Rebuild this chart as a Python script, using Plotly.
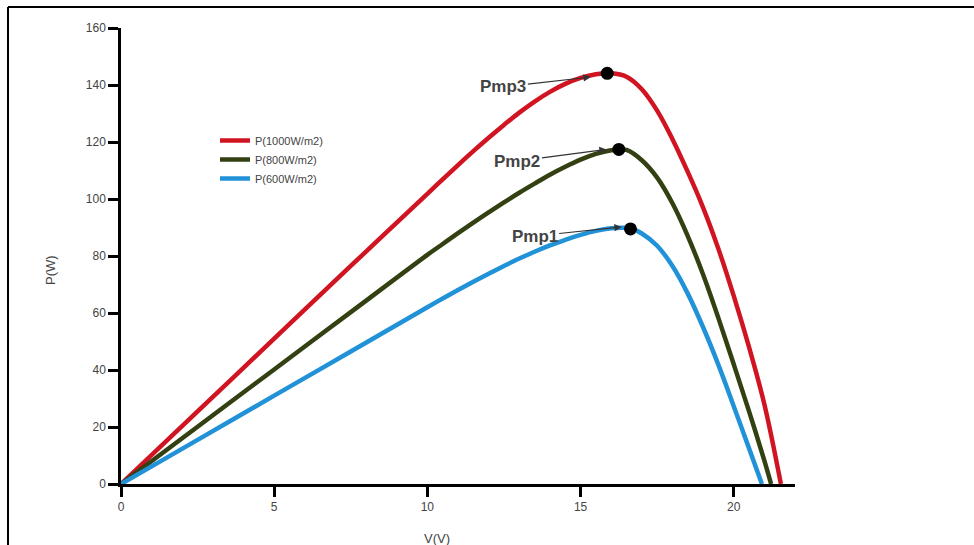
import plotly.graph_objects as go

# ---- data ----
v_1000 = [0, 2.5, 5.0, 7.5, 10.0, 10.5, 11.0, 11.5, 12.0, 12.5, 13.0, 13.5, 14.0, 14.5, 15.0, 15.5, 16.0,
          16.5, 17.0, 17.5, 18.0, 18.5, 19.0, 19.5, 20.0, 20.5, 21.0, 21.54]
p_1000 = [0, 25.5, 51.0, 76.5, 101.8, 106.9, 111.9, 116.8, 121.5, 126.0, 130.3, 134.2, 137.6, 140.4, 142.5, 143.8, 144.1,
          142.9, 138.5, 131.0, 121.0, 109.5, 97.0, 82.5, 66.0, 48.0, 28.0, 0]

v_800 = [0, 2.5, 5.0, 7.5, 10.0, 10.5, 11.0, 11.5, 12.0, 12.5, 13.0, 13.5, 14.0, 14.5, 15.0, 15.5, 16.0, 16.3,
         16.5, 17.0, 17.5, 18.0, 18.5, 19.0, 19.5, 20.0, 20.5, 21.0, 21.22]
p_800 = [0, 20.1, 40.2, 60.3, 80.4, 84.2, 88.0, 91.7, 95.3, 98.8, 102.2, 105.4, 108.5, 111.3, 113.8, 115.8, 117.1, 117.4,
         117.2, 113.6, 107.5, 98.5, 87.0, 73.5, 58.2, 42.0, 25.5, 8.2, 0]

v_600 = [0, 2.5, 5.0, 7.5, 10.0, 10.5, 11.0, 11.5, 12.0, 12.5, 13.0, 13.5, 14.0, 14.5, 15.0, 15.5, 16.0, 16.4,
         16.7, 17.0, 17.5, 18.0, 18.5, 19.0, 19.5, 20.0, 20.5, 20.92]
p_600 = [0, 15.5, 31.0, 46.5, 62.0, 65.1, 68.1, 71.0, 73.8, 76.5, 79.1, 81.5, 83.7, 85.7, 87.4, 88.8, 89.7, 89.9,
         89.4, 87.9, 83.6, 76.5, 66.8, 55.0, 41.8, 27.3, 12.5, 0]

series_names = ["P(1000W/m2)", "P(800W/m2)", "P(600W/m2)"]
series_colors = ["#d01422", "#334012", "#2192d8"]

mpp_v = [15.87, 16.25, 16.63]
mpp_p = [144.1, 117.4, 89.5]
mpp_labels = ["Pmp3", "Pmp2", "Pmp1"]
arrow_tip_v = [15.33, 15.85, 16.34]
arrow_tip_p = [142.8, 117.4, 90.2]
label_v = [12.48, 12.94, 13.5]
label_p = [139.3, 113.3, 87.0]

x_ticks = [0, 5, 10, 15, 20]
y_ticks = [0, 20, 40, 60, 80, 100, 120, 140, 160]

FONT = "Liberation Sans, Arial, sans-serif"
TXT = "#444444"

L, T, R, B = 121, 28, 795, 484   # plot area in pixels
PW, PH = R - L, B - T


def px(x):
    return (x - L) / PW


def py(y):
    return (B - y) / PH


fig = go.Figure()
for vs, ps, name, col in zip([v_1000, v_800, v_600], [p_1000, p_800, p_600], series_names, series_colors):
    fig.add_trace(go.Scatter(x=vs, y=ps, mode="lines", name=name,
                             line=dict(color=col, width=4.5, shape="spline", smoothing=1.0)))

fig.add_trace(go.Scatter(x=mpp_v, y=mpp_p, mode="markers", showlegend=False,
                         marker=dict(color="black", size=13), cliponaxis=False))

for tv, tp, lv, lp, lab in zip(arrow_tip_v, arrow_tip_p, label_v, label_p, mpp_labels):
    fig.add_annotation(x=tv, y=tp, ax=lv, ay=lp, axref="x", ayref="y", xref="x", yref="y",
                       text="<b>%s</b>" % lab, showarrow=True, arrowhead=2, arrowsize=1.2,
                       arrowwidth=1.2, arrowcolor="#333333",
                       font=dict(family=FONT, size=17, color=TXT))

# axis titles
fig.add_annotation(x=px(50), y=py(270), xref="paper", yref="paper", text="P(W)", textangle=-90,
                   showarrow=False, xanchor="center", yanchor="middle",
                   font=dict(family=FONT, size=13, color=TXT))
fig.add_annotation(x=px(437), y=py(538), xref="paper", yref="paper", text="V(V)",
                   showarrow=False, xanchor="center", yanchor="middle",
                   font=dict(family=FONT, size=13, color=TXT))

# frame border (top and left)
fig.add_shape(type="line", xref="paper", yref="paper",
              x0=px(8), x1=px(974), y0=py(7), y1=py(7), line=dict(color="black", width=2))
fig.add_shape(type="line", xref="paper", yref="paper",
              x0=px(8), x1=px(8), y0=py(7), y1=py(546), line=dict(color="black", width=2))

fig.update_layout(
    width=974, height=545,
    margin=dict(l=L, r=974 - R, t=T, b=545 - B, autoexpand=False),
    paper_bgcolor="white", plot_bgcolor="white",
    font=dict(family=FONT, size=11, color=TXT),
    showlegend=True,
    legend=dict(x=px(215), y=py(126), xanchor="left", yanchor="top",
                bgcolor="rgba(0,0,0,0)", font=dict(family=FONT, size=11, color=TXT),
                tracegroupgap=0),
    xaxis=dict(range=[0, 22], tickvals=x_ticks, showgrid=False, zeroline=False, automargin=False,
               showline=True, linecolor="black", linewidth=2.5,
               ticks="outside", ticklen=10, tickwidth=2.5, tickcolor="black",
               tickfont=dict(family=FONT, size=12, color=TXT)),
    yaxis=dict(range=[0, 160], tickvals=y_ticks, showgrid=False, zeroline=False, automargin=False,
               showline=True, linecolor="black", linewidth=2.5,
               ticks="outside", ticklen=10, tickwidth=2.5, tickcolor="black",
               tickfont=dict(family=FONT, size=12, color=TXT)),
)

fig.write_html("out.html", config={"displayModeBar": False},
               post_script="document.body.style.margin='0';document.body.style.overflow='hidden';")
